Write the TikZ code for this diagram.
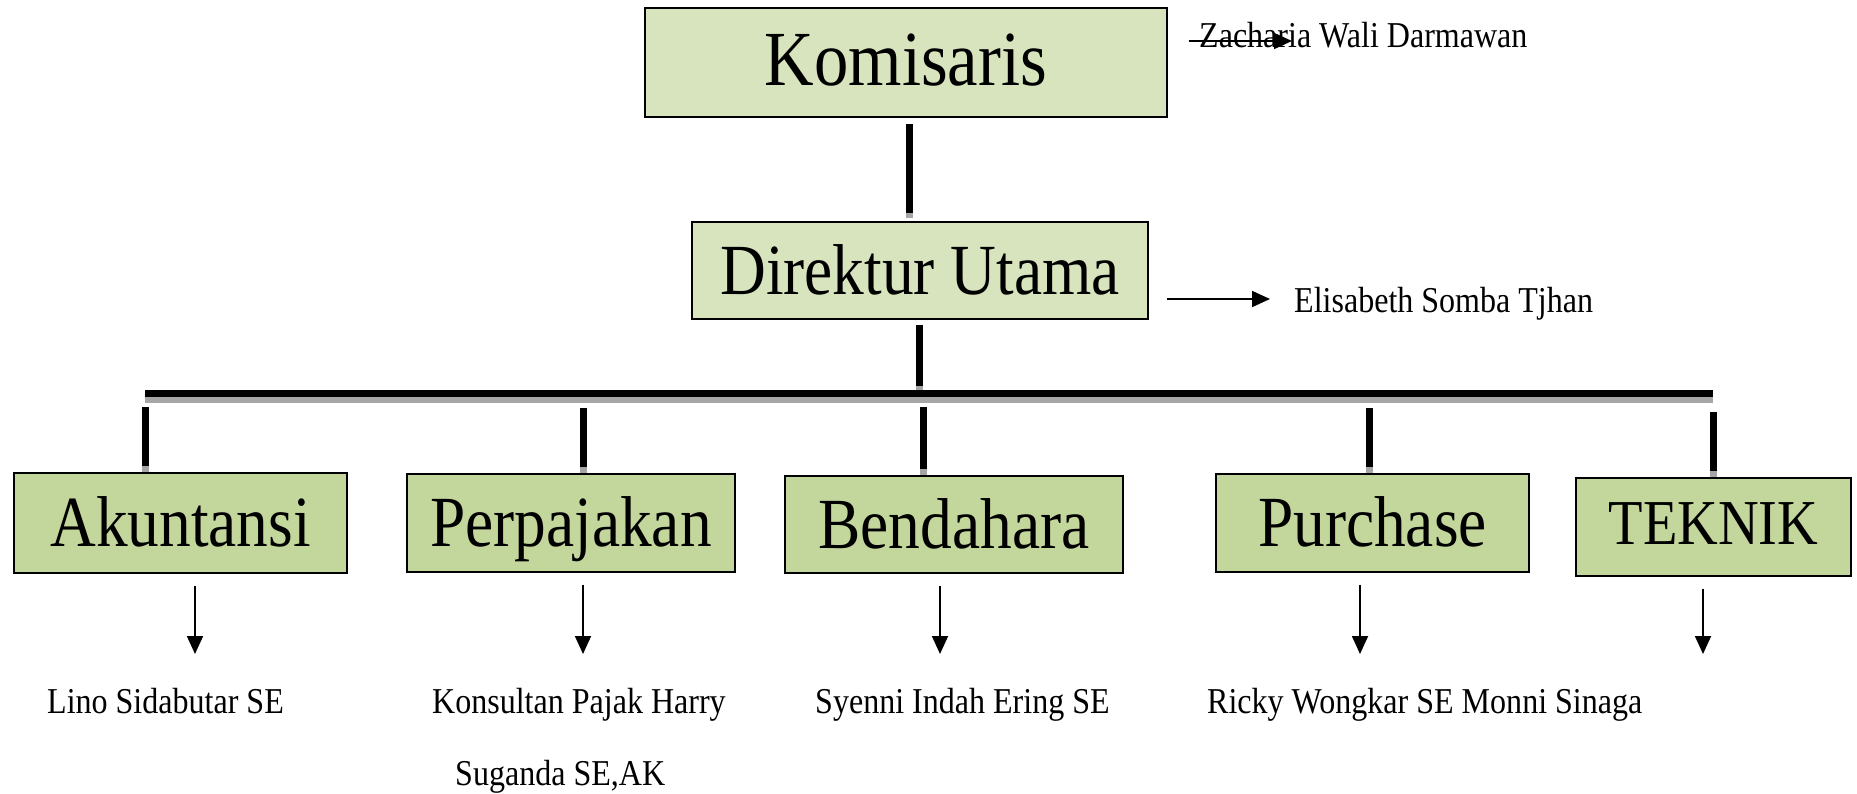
\documentclass[tikz,border=0pt]{standalone}
\usepackage{fontspec}
\setmainfont{Liberation Serif}[FakeStretch=0.88]
\usetikzlibrary{arrows.meta,calc}

\definecolor{headgreen}{HTML}{D7E4BD}
\definecolor{deptgreen}{HTML}{C3D69B}

\begin{document}
\begin{tikzpicture}[
  x=1pt,y=-1pt,
  >={Triangle[length=18pt,width=16pt]},
  head/.style={draw,line width=1.4pt,fill=headgreen,inner sep=0pt,text depth=0pt,text height=47pt,font=\fontsize{72}{80}\selectfont},
  dept/.style={head,fill=deptgreen},
  link/.style={line width=7pt,black},
  tail/.style={line width=7pt,black!35},
  pointer/.style={->,line width=1.8pt},
  person/.style={anchor=base west,inner sep=0pt,font=\fontsize{36.4}{44}\selectfont}
]
\useasboundingbox (0,0) rectangle (1857,793);

% Komisaris and Direktur Utama with the persons beside them.
\node[head,minimum width=522pt,minimum height=109pt,text height=45pt,font=\fontsize{78}{86}\selectfont] (kom) at (906,62.5) {Komisaris};
\node[head,minimum width=456pt,minimum height=97pt] (dir) at (920,270.5) {Direktur Utama};
\node[person] (zach) at (1199,47) {Zacharia Wali Darmawan};
\node[person] (elis) at (1294,312) {Elisabeth Somba Tjhan};
\coordinate (zachTip) at (1292,41);
\coordinate (elisTip) at (1270,299);
\draw[pointer] ($(kom.east |- zachTip)+(21,0)$) -- (zachTip);
\draw[pointer] ($(dir.east |- elisTip)+(18,0)$) -- (elisTip);

\coordinate (k1) at ($(kom.south)+(3.5,6)$);
\draw[tail,shorten >=3pt] (k1) -- (k1 |- dir.north);
\draw[link,shorten >=8pt] (k1) -- (k1 |- dir.north);

% Bar to the five departments.
\coordinate (hub) at (919,390);
\coordinate (barL) at (145,393.5);
\coordinate (barR) at (1713,393.5);
\draw[tail] ($(dir.south)+(-1,5)$) -- (hub);
\draw[link,shorten >=4pt] ($(dir.south)+(-1,5)$) -- (hub);
\draw[line width=6pt,black!35] ($(barL)+(0,6.5)$) -- ($(barR)+(0,6.5)$);
\draw[link] (barL) -- (barR);

\node[dept,minimum width=333pt,minimum height=100pt] (aku) at (180.5,523) {Akuntansi};
\node[dept,minimum width=328pt,minimum height=98pt] (paj) at (571,523) {Perpajakan};
\node[dept,minimum width=338pt,minimum height=97pt] (ben) at (954,524.5) {Bendahara};
\node[dept,minimum width=313pt,minimum height=98pt] (pur) at (1372.5,523) {Purchase};
\node[dept,minimum width=275pt,minimum height=98pt,text height=34pt,font=\fontsize{64}{72}\selectfont] (tek) at (1713.5,527) {TEKNIK};

\foreach \n/\x/\y in {aku/145.5/407,paj/583/408,ben/923/407,pur/1369/408,tek/1713.5/412}{
  \coordinate (drop\n) at (\x,\y);
  \draw[tail] (drop\n) -- (drop\n |- \n.north);
  \draw[link,shorten >=6pt] (drop\n) -- (drop\n |- \n.north);
}

% Persons under the departments.
\foreach \n/\x in {aku/195,paj/583,ben/940,pur/1360,tek/1703}{
  \coordinate (tip\n) at (\x,654);
  \draw[pointer] ($(tip\n |- \n.south)+(0,12)$) -- (tip\n);
}
\node[person] (lino) at (47,713) {Lino Sidabutar SE};
\node[person] (harry) at (432,713) {Konsultan Pajak Harry};
\node[person] (sug) at (455,785) {Suganda SE,AK};
\node[person] (syen) at (815,713) {Syenni Indah Ering SE};
\node[person] (ricky) at (1207,713) {Ricky Wongkar SE Monni Sinaga};
\end{tikzpicture}
\end{document}
